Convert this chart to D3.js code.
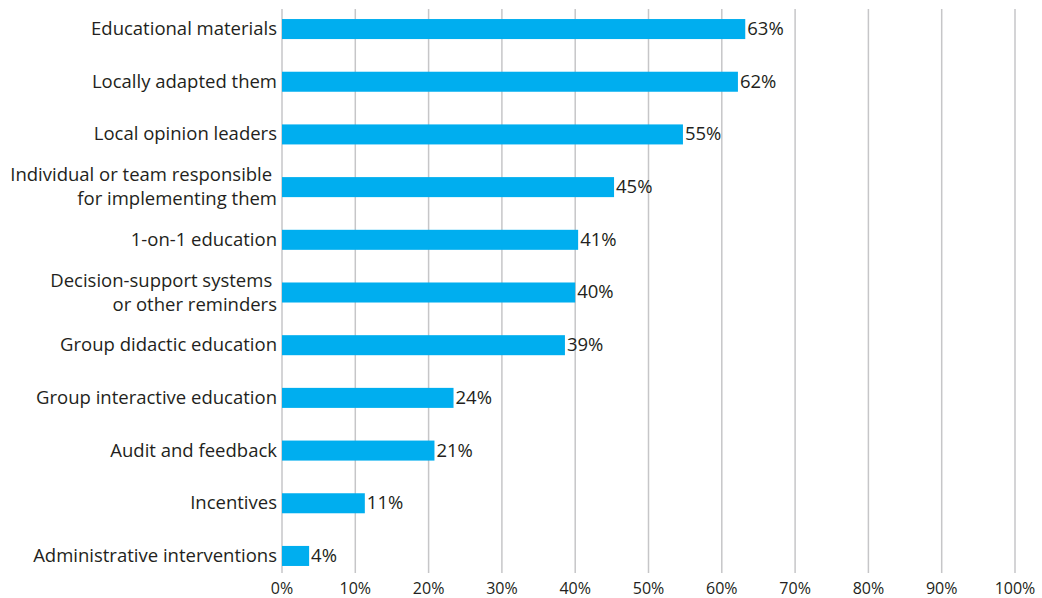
<!DOCTYPE html>
<html>
<head>
<meta charset="utf-8">
<script src="https://cdn.jsdelivr.net/npm/d3@7"></script>
<style>
  html, body { margin: 0; padding: 0; background: #fff; }
  svg text { font-family: "Open Sans", "DejaVu Sans", sans-serif; fill: #231f20; white-space: pre; }
</style>
</head>
<body>
<svg id="chart" width="1042" height="598"></svg>
<script>
// Kategorier (varje rad kan ha en eller två textrader)
const categories = [
  ["Educational materials"],
  ["Locally adapted them"],
  ["Local opinion leaders"],
  ["Individual or team responsible ", "for implementing them"],
  ["1-on-1 education"],
  ["Decision-support systems ", "or other reminders"],
  ["Group didactic education"],
  ["Group interactive education"],
  ["Audit and feedback"],
  ["Incentives"],
  ["Administrative interventions"]
];
const values = [63.2, 62.2, 54.7, 45.3, 40.4, 40.0, 38.6, 23.4, 20.8, 11.3, 3.7];
const valueLabels = ["63%", "62%", "55%", "45%", "41%", "40%", "39%", "24%", "21%", "11%", "4%"];
const ticks = [0, 10, 20, 30, 40, 50, 60, 70, 80, 90, 100];

const svg = d3.select("#chart");
const margin = { left: 282, right: 27, top: 9, bottom: 25 };
const width = 1042;
const height = 598;

const x = d3.scaleLinear().domain([0, 100]).range([margin.left, width - margin.right]);
const y = d3.scaleBand()
  .domain(d3.range(categories.length))
  .range([2.7, 582.3])
  .paddingInner(0.62)
  .paddingOuter(0.31);

// Rutnät
svg.append("g")
  .selectAll("line")
  .data(ticks)
  .join("line")
  .attr("x1", d => x(d))
  .attr("x2", d => x(d))
  .attr("y1", margin.top)
  .attr("y2", height - margin.bottom)
  .attr("stroke", "#c6c6c8")
  .attr("stroke-width", 1.5);

// Axeletiketter
svg.append("g")
  .selectAll("text")
  .data(ticks)
  .join("text")
  .attr("x", d => x(d))
  .attr("y", 590)
  .attr("text-anchor", "middle")
  .attr("dominant-baseline", "middle")
  .style("font-size", "16px")
  .text(d => `${d}%`);

// Staplar
svg.append("g")
  .selectAll("rect")
  .data(values)
  .join("rect")
  .attr("x", x(0))
  .attr("y", (d, i) => y(i))
  .attr("width", d => x(d) - x(0))
  .attr("height", y.bandwidth())
  .attr("fill", "#00aeef");

// Värdeetiketter
svg.append("g")
  .selectAll("text")
  .data(values)
  .join("text")
  .attr("x", d => x(d) + 2)
  .attr("y", (d, i) => y(i) + y.bandwidth() / 2 + 1)
  .attr("dominant-baseline", "middle")
  .style("font-size", "18.5px")
  .text((d, i) => valueLabels[i]);

// Kategorietiketter
const lineGap = 24;
const gCat = svg.append("g");
categories.forEach((lines, i) => {
  const cy = y(i) + y.bandwidth() / 2 + 1;
  const t = gCat.append("text")
    .attr("text-anchor", "end")
    .attr("dominant-baseline", "middle")
    .style("font-size", "18.5px");
  lines.forEach((ln, k) => {
    t.append("tspan")
      .attr("x", x(0) - 5)
      .attr("y", cy + (k - (lines.length - 1) / 2) * lineGap)
      .text(ln);
  });
});
</script>
</body>
</html>
